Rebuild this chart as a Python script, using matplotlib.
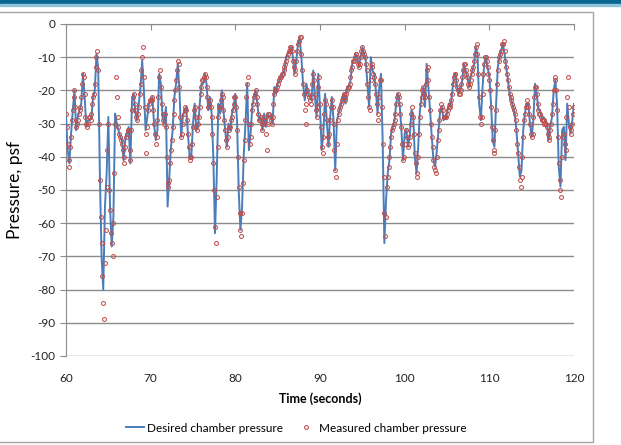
import numpy as np
import matplotlib.pyplot as plt
from matplotlib.patches import Rectangle
from matplotlib.lines import Line2D

plt.rcParams['font.family'] = ['Lato', 'DejaVu Sans']
plt.rcParams['axes.unicode_minus'] = False

# desired chamber pressure, sampled every 0.2 s from 60 s to 120 s
t_start = 60.0
step = 0.2
desired = [
    -28, -38, -42, -33, -26, -20, -32, -28, -26, -24,
    -15, -22, -31, -29, -29, -28, -22, -20, -9, -13,
    -45, -70, -80, -55, -45, -28, -55, -67, -58, -27,
    -30, -32, -34, -35, -41, -35, -33, -31, -42, -23,
    -21, -27, -29, -24, -19, -11, -20, -32, -28, -24,
    -23, -22, -30, -35, -32, -15, -18, -28, -30, -25,
    -55, -46, -37, -32, -22, -18, -12, -20, -34, -28,
    -26, -25, -33, -40, -40, -30, -24, -32, -31, -24,
    -18, -18, -15, -18, -26, -22, -27, -40, -63, -46,
    -24, -27, -20, -26, -32, -37, -30, -32, -27, -25,
    -21, -29, -50, -62, -55, -39, -30, -18, -38, -33,
    -25, -22, -20, -24, -29, -28, -32, -27, -31, -27,
    -28, -28, -30, -19, -21, -18, -17, -16, -15, -14,
    -10, -9, -8, -7, -10, -15, -11, -6, -4, -10,
    -18, -23, -18, -21, -22, -23, -14, -22, -28, -15,
    -25, -38, -33, -21, -29, -37, -28, -22, -29, -44,
    -29, -27, -25, -23, -21, -24, -19, -19, -17, -12,
    -11, -9, -10, -13, -10, -7, -9, -11, -18, -25,
    -10, -14, -15, -20, -27, -19, -15, -35, -66, -53,
    -45, -41, -33, -31, -29, -24, -21, -24, -31, -41,
    -33, -32, -37, -34, -26, -27, -40, -45, -37, -26,
    -22, -19, -25, -12, -19, -26, -34, -41, -43, -38,
    -32, -26, -25, -29, -28, -27, -24, -25, -21, -16,
    -15, -19, -21, -20, -17, -12, -14, -16, -19, -16,
    -14, -12, -7, -9, -24, -29, -19, -12, -10, -13,
    -16, -24, -35, -37, -24, -13, -10, -8, -6, -9,
    -13, -17, -21, -23, -25, -27, -32, -39, -46, -44,
    -32, -27, -24, -24, -30, -34, -29, -18, -21, -26,
    -26, -29, -28, -29, -30, -35, -31, -28, -20, -17,
    -24, -43, -49, -32, -31, -41, -24, -30, -33, -29,
    -24,
]

# measured chamber pressure, samples at 60.1 s, 60.3 s, ...
ma_start = 60.1
measured_a = [
    -31, -41, -37, -29, -22, -25, -30, -27, -25, -18,
    -16, -28, -31, -28, -29, -24, -21, -13, -8, -30,
    -58, -76, -89, -62, -38, -50, -63, -70, -45, -16,
    -28, -33, -35, -38, -40, -34, -32, -38, -32, -22,
    -24, -28, -27, -21, -14, -7, -25, -39, -26, -23,
    -22, -26, -33, -34, -22, -14, -24, -29, -27, -40,
    -49, -42, -35, -27, -20, -14, -12, -28, -33, -27,
    -25, -29, -37, -41, -36, -26, -28, -32, -28, -21,
    -17, -16, -16, -22, -24, -25, -33, -50, -66, -37,
    -25, -23, -22, -29, -35, -34, -31, -29, -26, -22,
    -25, -40, -57, -64, -48, -35, -22, -16, -36, -30,
    -24, -21, -22, -27, -29, -30, -30, -29, -38, -27,
    -28, -30, -24, -20, -19, -17, -16, -15, -14, -12,
    -10, -8, -7, -8, -13, -14, -8, -5, -4, -14,
    -21, -30, -20, -22, -24, -18, -17, -26, -25, -16,
    -31, -39, -27, -24, -34, -33, -25, -25, -38, -46,
    -29, -26, -24, -22, -22, -21, -19, -18, -14, -11,
    -10, -9, -12, -12, -8, -8, -10, -14, -22, -26,
    -12, -15, -18, -24, -29, -17, -25, -46, -64, -49,
    -43, -37, -32, -30, -27, -22, -22, -27, -36, -40,
    -32, -34, -36, -30, -25, -33, -42, -46, -33, -24,
    -20, -21, -18, -13, -22, -30, -37, -43, -45, -35,
    -29, -24, -26, -28, -28, -26, -25, -23, -18, -15,
    -17, -20, -21, -18, -14, -12, -15, -18, -18, -15,
    -13, -9, -6, -15, -28, -28, -15, -10, -11, -15,
    -20, -31, -39, -32, -18, -11, -9, -6, -5, -11,
    -15, -19, -22, -24, -26, -29, -36, -43, -49, -40,
    -29, -25, -23, -27, -33, -33, -22, -19, -24, -27,
    -28, -29, -30, -30, -33, -34, -30, -24, -17, -20,
    -34, -47, -52, -34, -36, -28, -16, -31, -32, -27,
]

# measured chamber pressure, samples at 60.0 s, 60.2 s, ...
mb_start = 60.0
measured_b = [
    -27, -36, -43, -34, -26, -20, -31, -29, -26, -22,
    -15, -21, -30, -30, -28, -27, -22, -18, -10, -14,
    -47, -66, -84, -72, -49, -30, -56, -66, -60, -30,
    -22, -31, -34, -36, -42, -37, -33, -32, -41, -26,
    -21, -26, -29, -25, -18, -10, -16, -33, -31, -24,
    -23, -23, -30, -36, -29, -16, -19, -27, -30, -31,
    -48, -47, -38, -31, -23, -17, -11, -19, -34, -30,
    -26, -26, -33, -40, -40, -31, -25, -31, -30, -25,
    -19, -17, -15, -19, -25, -23, -28, -42, -61, -52,
    -28, -25, -21, -26, -32, -37, -32, -31, -28, -24,
    -22, -32, -49, -62, -57, -41, -29, -18, -30, -34,
    -26, -22, -20, -24, -29, -28, -32, -28, -33, -30,
    -27, -29, -28, -21, -20, -18, -17, -16, -15, -13,
    -11, -9, -8, -7, -11, -15, -11, -6, -4, -9,
    -18, -26, -24, -21, -23, -22, -15, -21, -28, -19,
    -24, -37, -34, -23, -29, -36, -29, -23, -30, -44,
    -36, -27, -25, -23, -21, -23, -20, -19, -16, -13,
    -11, -9, -10, -13, -10, -7, -9, -12, -18, -25,
    -17, -13, -16, -21, -27, -22, -17, -36, -57, -58,
    -46, -40, -34, -31, -29, -24, -21, -24, -31, -41,
    -36, -32, -37, -34, -27, -28, -39, -45, -40, -28,
    -22, -19, -22, -14, -17, -26, -34, -41, -44, -40,
    -32, -26, -25, -28, -28, -27, -25, -24, -21, -16,
    -15, -19, -21, -20, -16, -12, -14, -16, -19, -17,
    -14, -11, -7, -9, -22, -30, -21, -12, -10, -13,
    -17, -25, -35, -38, -26, -14, -10, -8, -6, -8,
    -13, -17, -21, -23, -25, -27, -32, -39, -47, -46,
    -34, -27, -24, -25, -30, -34, -28, -19, -21, -26,
    -27, -29, -29, -30, -31, -35, -32, -27, -20, -16,
    -26, -42, -50, -40, -33, -38, -22, -25, -33, -30,
    -25,
]

t_desired = t_start + step * np.arange(len(desired))
t_meas = np.concatenate([ma_start + step * np.arange(len(measured_a)),
                         mb_start + step * np.arange(len(measured_b))])
v_meas = np.concatenate([measured_a, measured_b])

fig = plt.figure(figsize=(6.21, 4.45), dpi=100)

# header band and chart frame, kept behind the axes
fig.patches.append(Rectangle((0, 1 - 4 / 445), 1, 4 / 445, transform=fig.transFigure,
                             color="#0a6690", zorder=-2))
fig.patches.append(Rectangle((0, 1 - 5.5 / 445), 1, 1.5 / 445, transform=fig.transFigure,
                             color="#8fc3da", zorder=-2))
fig.patches.append(Rectangle((-0.01, 1 - 442 / 445), 593 / 621 + 0.01, 430 / 445,
                             transform=fig.transFigure, facecolor="white",
                             edgecolor="#a6a6a6", linewidth=1.0, zorder=-1))

ax = fig.add_axes([66 / 621, 1 - 356 / 445, 508 / 621, 332 / 445])
ax.set_facecolor("none")

ax.plot(t_desired, desired, color="#4a7ebb", linewidth=1.4, zorder=3)
ax.plot(t_meas, v_meas, linestyle="none", marker="o", markersize=2.8,
        markerfacecolor="none", markeredgecolor="#c0504d", markeredgewidth=0.75, zorder=4)

ax.set_xlim(60, 120)
ax.set_ylim(-100, 0)
ax.set_xticks(np.arange(60, 121, 10))
ax.set_yticks(np.arange(-100, 1, 10))
ax.grid(axis="y", color="#8c8c8c", linewidth=1.0)
ax.set_axisbelow(True)

for side in ["right", "bottom"]:
    ax.spines[side].set_visible(False)
ax.spines["left"].set_color("#8c8c8c")
ax.spines["top"].set_color("#8c8c8c")
ax.tick_params(axis="x", bottom=False, top=True, direction="in", length=4,
               color="#8c8c8c", labelsize=8.5, pad=12, labelcolor="#222222")
ax.tick_params(axis="y", direction="out", length=4, color="#8c8c8c",
               labelsize=8.5, labelcolor="#222222")

ax.set_xlabel("Time (seconds)", fontsize=9, fontweight="bold", labelpad=6)
ax.set_ylabel("Pressure, psf", fontsize=12.5)
ax.yaxis.set_label_coords(-0.085, 0.5)

handles = [
    Line2D([], [], color="#4a7ebb", linewidth=1.4),
    Line2D([], [], linestyle="none", marker="o", markersize=2.8, markerfacecolor="none",
           markeredgecolor="#c0504d", markeredgewidth=0.75),
]
fig.legend(handles, ["Desired chamber pressure", "Measured chamber pressure"],
           loc="center", bbox_to_anchor=(296 / 621, 1 - 428 / 445), ncol=2,
           frameon=False, fontsize=8.5, handlelength=1.5, columnspacing=1.2,
           handletextpad=0.3)

fig.savefig("out.png", dpi=100)
